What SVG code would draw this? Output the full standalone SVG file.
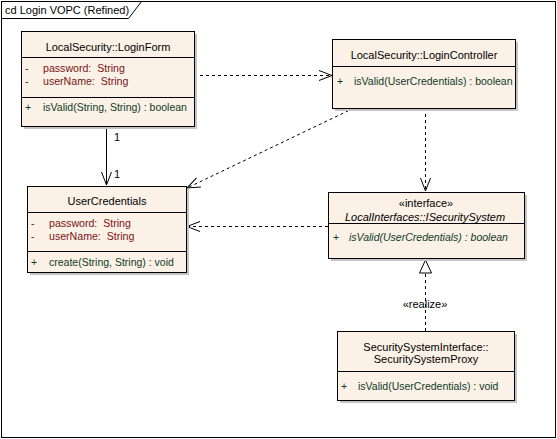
<svg xmlns="http://www.w3.org/2000/svg" width="557" height="439" viewBox="0 0 557 439">
<style>
text{font-family:"Liberation Sans",Arial,sans-serif;font-size:11px;fill:#000}
.box{fill:#FBF1E6;stroke:#000;stroke-width:1}
.sh{fill:#C4C4C4}
.sep{stroke:#000;stroke-width:1}
.t{text-anchor:middle}
.at{fill:#7A1515;font-size:10.6px}
.op{fill:#0F3A28;font-size:10.5px}
.it{font-style:italic}
.dash{fill:none;stroke:#000;stroke-width:1;stroke-dasharray:3,3}
.solid{fill:none;stroke:#000;stroke-width:1}
</style>
<defs>
<marker id="open" markerUnits="userSpaceOnUse" markerWidth="30" markerHeight="30" refX="0" refY="0" viewBox="-15 -15 30 30" orient="auto" overflow="visible">
<path d="M-13,-5 L0,0 L-13,5" fill="none" stroke="#000" stroke-width="1" stroke-dasharray="none"/>
</marker>
<marker id="tri" markerUnits="userSpaceOnUse" markerWidth="30" markerHeight="30" refX="0" refY="0" viewBox="-15 -15 30 30" orient="auto" overflow="visible">
<path d="M0,0 L-13,-6 L-13,6 Z" fill="#fff" stroke="#000" stroke-width="1" stroke-dasharray="none"/>
</marker>
</defs>
<rect x="0" y="0" width="557" height="439" fill="#fff"/>
<g id="frame">
<rect x="1.5" y="1.5" width="554" height="436" fill="none" stroke="#000"/>
<path d="M1.5,18.5 H128.5 L141.5,1.5" fill="none" stroke="#000"/>
<text x="5" y="14">cd Login VOPC (Refined)</text>
</g>
<g id="connectors">
<line class="dash" x1="194" y1="75.5" x2="332" y2="75.5" marker-end="url(#open)"/>
<line class="solid" x1="106.5" y1="126" x2="106.5" y2="185" marker-end="url(#open)"/>
<text x="114" y="141">1</text>
<text x="114" y="178">1</text>
<line class="dash" x1="354" y1="108" x2="187" y2="188" marker-end="url(#open)"/>
<line class="dash" x1="425.5" y1="108" x2="425.5" y2="191" marker-end="url(#open)"/>
<line class="dash" x1="328" y1="226.5" x2="187" y2="226.5" marker-end="url(#open)"/>
<line class="dash" x1="425.5" y1="331" x2="425.5" y2="260" marker-end="url(#tri)"/>
<text class="t" x="425" y="308">«realize»</text>
</g>
<g id="LoginForm">
<rect class="sh" x="24" y="34" width="173" height="95"/>
<rect class="box" x="21.5" y="31.5" width="173" height="95"/>
<line class="sep" x1="21.5" y1="57.5" x2="194.5" y2="57.5"/>
<line class="sep" x1="21.5" y1="97.5" x2="194.5" y2="97.5"/>
<text class="t" x="108" y="51">LocalSecurity::LoginForm</text>
<text class="at" x="25" y="72">-</text><text class="at" x="43" y="72">password:&#160; String</text>
<text class="at" x="25" y="85">-</text><text class="at" x="43" y="85">userName:&#160; String</text>
<text class="op" x="25" y="111">+</text><text class="op" x="43" y="111">isValid(String, String) : boolean</text>
</g>
<g id="LoginController">
<rect class="sh" x="335" y="42" width="183" height="69"/>
<rect class="box" x="332.5" y="39.5" width="183" height="69"/>
<line class="sep" x1="332.5" y1="66.5" x2="515.5" y2="66.5"/>
<text class="t" x="424" y="59">LocalSecurity::LoginController</text>
<text class="op" x="337" y="85">+</text><text class="op" x="354" y="85">isValid(UserCredentials) : boolean</text>
</g>
<g id="UserCredentials">
<rect class="sh" x="30" y="189" width="159" height="86"/>
<rect class="box" x="27.5" y="186.5" width="159" height="86"/>
<line class="sep" x1="27.5" y1="212.5" x2="186.5" y2="212.5"/>
<line class="sep" x1="27.5" y1="251.5" x2="186.5" y2="251.5"/>
<text class="t" x="107" y="205">UserCredentials</text>
<text class="at" x="31" y="227">-</text><text class="at" x="49" y="227">password:&#160; String</text>
<text class="at" x="31" y="240">-</text><text class="at" x="49" y="240">userName:&#160; String</text>
<text class="op" x="31" y="266">+</text><text class="op" x="49" y="266">create(String, String) : void</text>
</g>
<g id="ISecuritySystem">
<rect class="sh" x="331" y="195" width="196" height="66"/>
<rect class="box" x="328.5" y="192.5" width="196" height="66"/>
<line class="sep" x1="328.5" y1="223.5" x2="524.5" y2="223.5"/>
<text class="t" x="426" y="207">«interface»</text>
<text class="t it" x="425" y="221">LocalInterfaces::ISecuritySystem</text>
<text class="op" x="333" y="241">+</text><text class="op it" x="349" y="241">isValid(UserCredentials) : boolean</text>
</g>
<g id="SecuritySystemProxy">
<rect class="sh" x="340" y="334" width="177" height="69"/>
<rect class="box" x="337.5" y="331.5" width="177" height="69"/>
<line class="sep" x1="337.5" y1="371.5" x2="514.5" y2="371.5"/>
<text class="t" x="426" y="351">SecuritySystemInterface::</text>
<text class="t" x="426" y="363">SecuritySystemProxy</text>
<text class="op" x="341" y="390">+</text><text class="op" x="358" y="390">isValid(UserCredentials) : void</text>
</g>
</svg>
